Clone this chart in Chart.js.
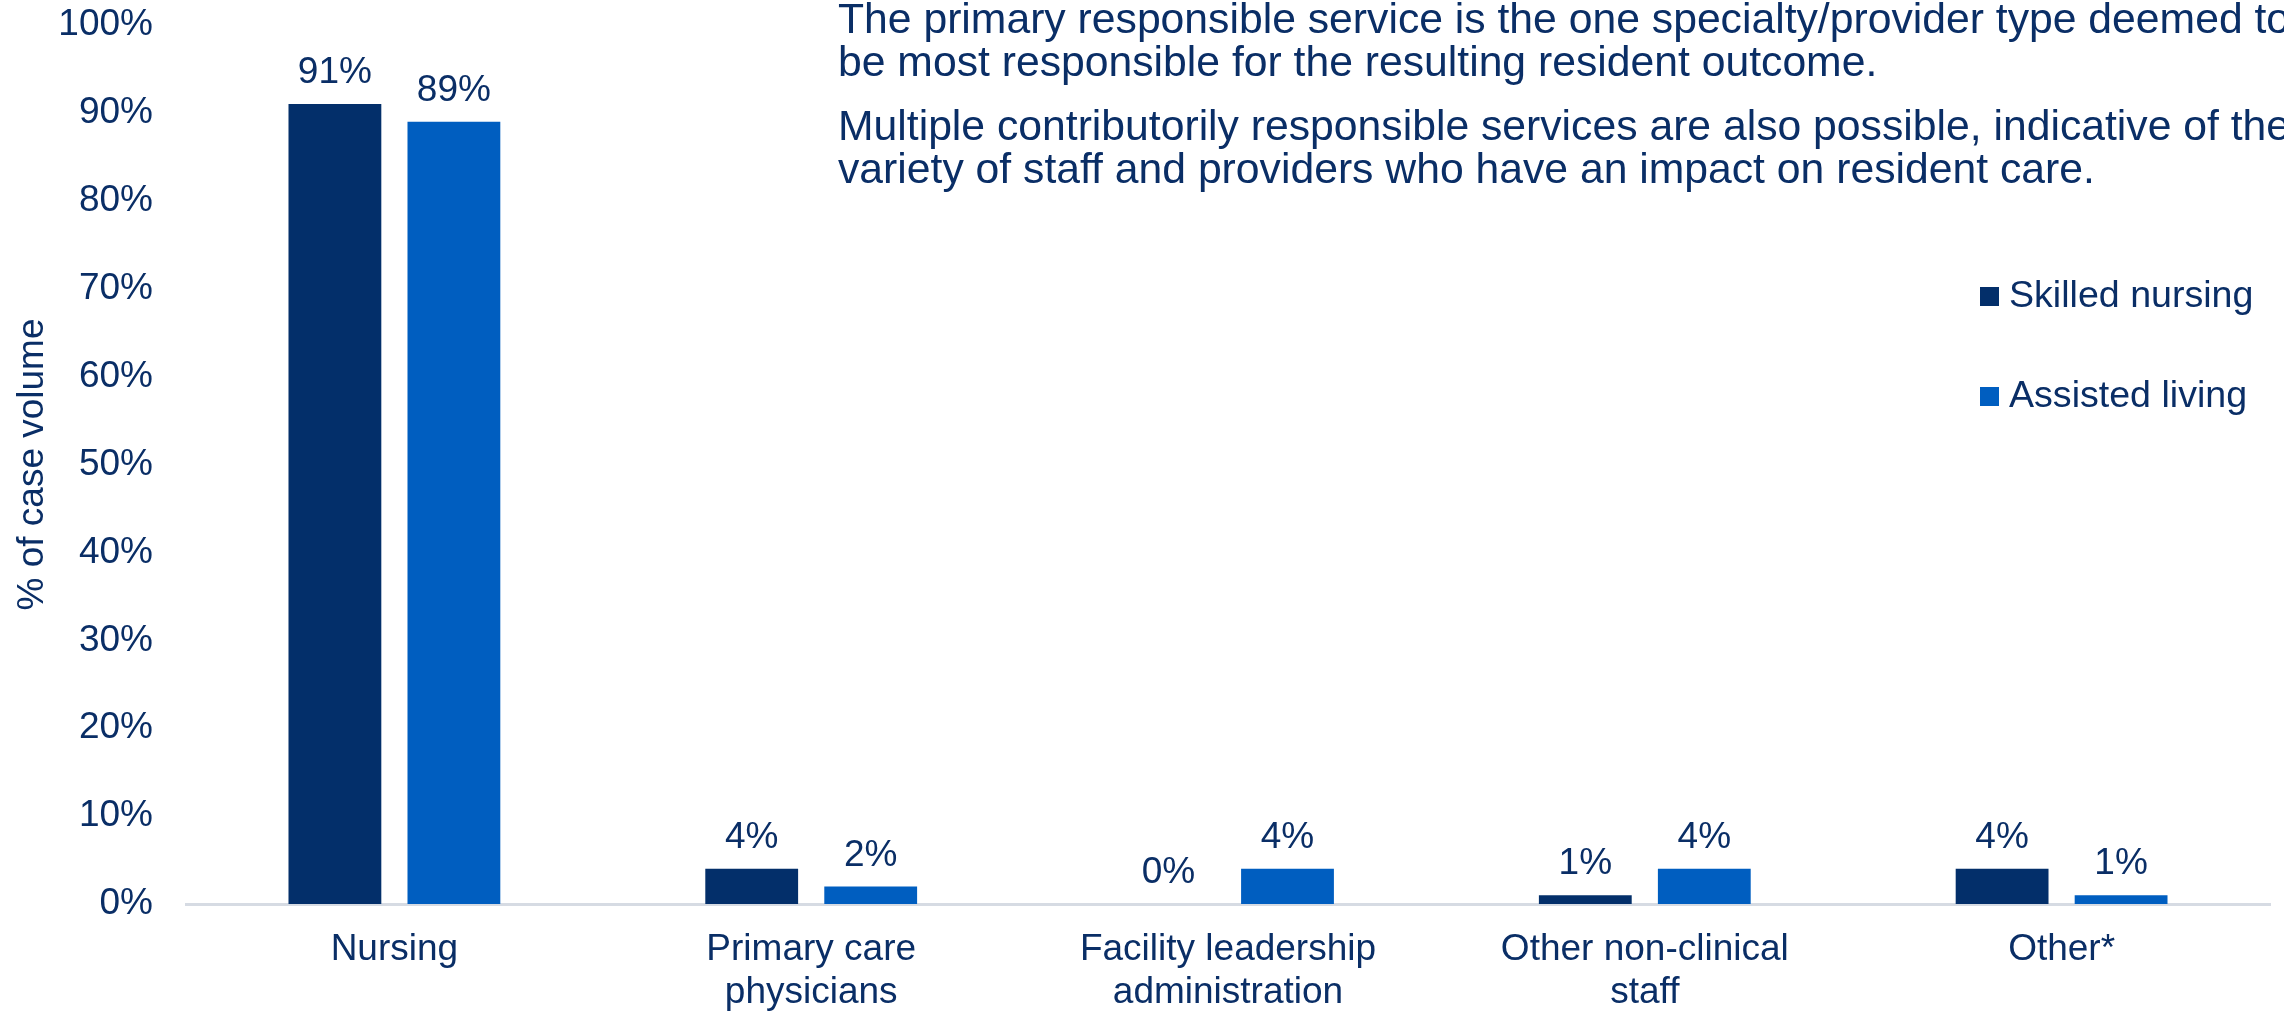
<!DOCTYPE html>
<html lang="en">
<head>
  <meta charset="UTF-8">
  <title>Responsible services by setting</title>
  <script src="https://cdn.jsdelivr.net/npm/chart.js"></script>
  <style>
    html, body { margin: 0; padding: 0; background: #fff; }
    #wrap { width: 2284px; height: 1011px; }
  </style>
</head>
<body>

<div id="wrap">
  <canvas id="chartServicos" width="2284" height="1011"></canvas>
</div>

<script>
// categorias e valores (% of case volume)
const categorias = [
  ['Nursing'],
  ['Primary care', 'physicians'],
  ['Facility leadership', 'administration'],
  ['Other non-clinical', 'staff'],
  ['Other*']
];
const skilledNursing = [91, 4, 0, 1, 4];
const assistedLiving = [89, 2, 4, 4, 1];
const yTicks = [0, 10, 20, 30, 40, 50, 60, 70, 80, 90, 100];

const notaLinhas = [
  ['The primary responsible service is the one specialty/provider type deemed to',
   'be most responsible for the resulting resident outcome.'],
  ['Multiple contributorily responsible services are also possible, indicative of the',
   'variety of staff and providers who have an impact on resident care.']
];

const azulEscuro = '#032F6A';
const azulClaro = '#005EC0';
const corTexto = '#0A2E66';
const fonte = '"Liberation Sans", Arial, sans-serif';

// rótulos de valor acima das barras
const rotulosValor = {
  id: 'rotulosValor',
  afterDatasetsDraw(chart) {
    const ctx = chart.ctx;
    ctx.save();
    ctx.font = '37px ' + fonte;
    ctx.fillStyle = corTexto;
    ctx.textAlign = 'center';
    ctx.textBaseline = 'middle';
    chart.data.datasets.forEach((ds, i) => {
      chart.getDatasetMeta(i).data.forEach((bar, j) => {
        ctx.fillText(ds.data[j] + '%', bar.x, bar.y - 31);
      });
    });
    ctx.restore();
  }
};

// legenda e texto explicativo
const legendaNota = {
  id: 'legendaNota',
  afterDraw(chart) {
    const ctx = chart.ctx;
    ctx.save();
    ctx.fillStyle = corTexto;
    ctx.textAlign = 'left';

    ctx.font = '42.7px ' + fonte;
    ctx.textBaseline = 'alphabetic';
    let y = 33;
    notaLinhas.forEach(par => {
      par.forEach(l => { ctx.fillText(l, 838, y); y += 43; });
      y += 21;
    });

    ctx.font = '37.6px ' + fonte;
    ctx.textBaseline = 'middle';
    chart.data.datasets.forEach((ds, i) => {
      const ly = 297 + i * 100;
      ctx.fillStyle = ds.backgroundColor;
      ctx.fillRect(1980, ly - 10, 19, 19);
      ctx.fillStyle = corTexto;
      ctx.fillText(ds.label, 2009, ly);
    });
    ctx.restore();
  }
};

new Chart(document.getElementById('chartServicos'), {
  type: 'bar',
  data: {
    labels: categorias,
    datasets: [
      { label: 'Skilled nursing', data: skilledNursing, backgroundColor: azulEscuro },
      { label: 'Assisted living', data: assistedLiving, backgroundColor: azulClaro }
    ]
  },
  options: {
    responsive: false,
    animation: false,
    devicePixelRatio: 1,
    categoryPercentage: 0.571,
    barPercentage: 0.78,
    layout: { padding: { left: 0, right: 14, top: 25, bottom: 0 } },
    plugins: {
      legend: { display: false },
      tooltip: { enabled: false }
    },
    scales: {
      x: {
        grid: { display: false, drawTicks: false },
        border: { color: '#D6DBE3', width: 3 },
        ticks: {
          color: corTexto,
          font: { family: fonte, size: 37, lineHeight: 1.16 },
          padding: 24,
          maxRotation: 0,
          autoSkip: false
        },
        afterFit(scale) { scale.height = 107; }
      },
      y: {
        min: 0,
        max: 100,
        afterBuildTicks(scale) { scale.ticks = yTicks.map(v => ({ value: v })); },
        grid: { display: false, drawTicks: false },
        border: { display: false },
        ticks: {
          color: corTexto,
          font: { family: fonte, size: 37 },
          padding: 33,
          callback: v => v + '%'
        },
        title: {
          display: true,
          text: '% of case volume',
          color: corTexto,
          font: { family: fonte, size: 37 },
          padding: { top: 11, bottom: 0 }
        },
        afterFit(scale) {
          scale.width = 186;
          // o padding dos ticks não deve empurrar a área do gráfico
          scale.paddingTop = 0;
          scale.paddingBottom = 0;
        }
      }
    }
  },
  plugins: [rotulosValor, legendaNota]
});
</script>

</body>
</html>
